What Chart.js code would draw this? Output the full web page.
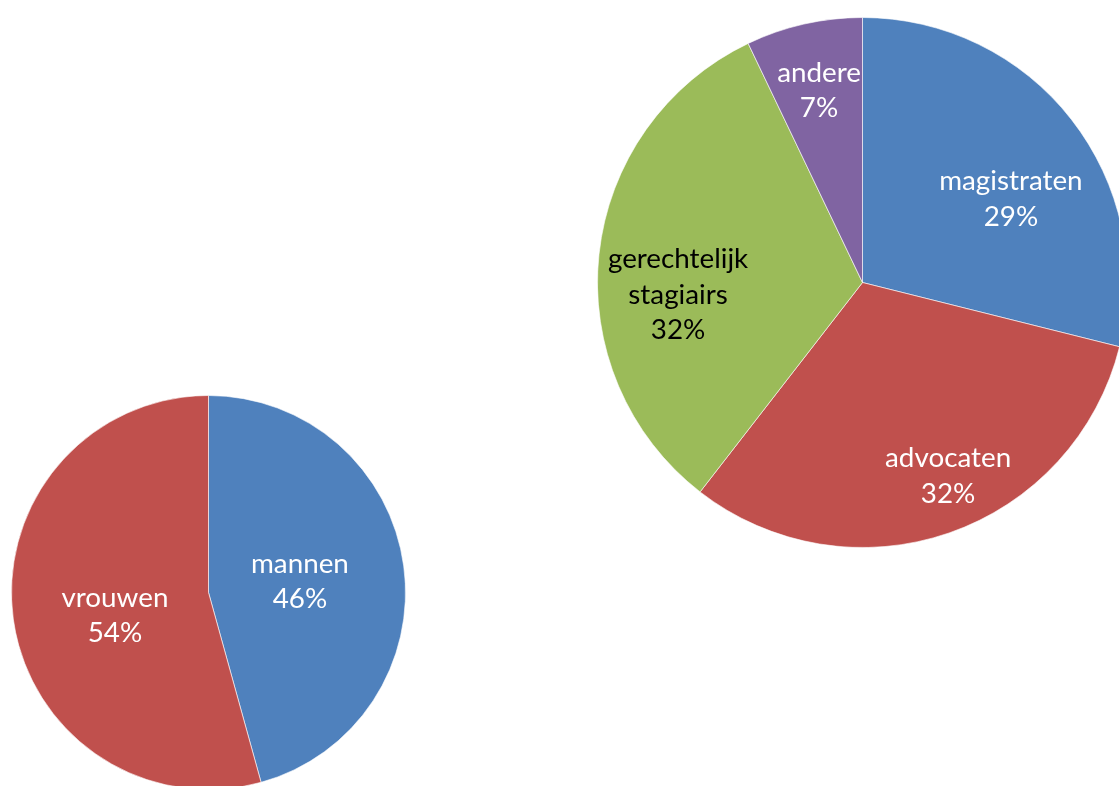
<!DOCTYPE html>
<html>
<head>
<meta charset="utf-8">
<script src="https://cdn.jsdelivr.net/npm/chart.js@4"></script>
<style>
  html, body { margin: 0; padding: 0; width: 1119px; height: 786px; overflow: hidden; background: #ffffff; }
  canvas { position: absolute; }
  #c1 { left: 11px; top: 395px; }
  #c2 { left: 597px; top: 17px; }
</style>
</head>
<body>
<canvas id="c1" width="395" height="395"></canvas>
<canvas id="c2" width="531" height="531"></canvas>
<script>
// ---- data ----
const genderCategories = ['mannen', 'vrouwen'];
const genderValues = [45.7, 54.3];

const roleCategories = ['magistraten', 'advocaten', ['gerechtelijk', 'stagiairs'], 'andere'];
const roleValues = [28.9, 31.6, 32.4, 7.1];

// ---- styles ----
const genderColors = ['#4F81BD', '#C0504D'];
const roleColors = ['#4F81BD', '#C0504D', '#9BBB59', '#8064A2'];
const genderTextColors = ['#ffffff', '#ffffff'];
const roleTextColors = ['#ffffff', '#ffffff', '#000000', '#ffffff'];
// label anchor offsets (fraction of the outer radius, from the pie centre)
const genderLabelPos = [[0.464, -0.010], [-0.475, 0.162]];
const roleLabelPos = [[0.560, -0.281], [0.323, 0.764], [-0.696, 0.081], [-0.164, -0.691]];

const FONT = '27.8px Lato, "Open Sans", sans-serif';
const LINE_H = 35.5;

function pieLabelPlugin(textColors, positions) {
  return {
    id: 'pieLabels',
    afterDatasetsDraw(chart) {
      const ctx = chart.ctx;
      const meta = chart.getDatasetMeta(0);
      const data = chart.data.datasets[0].data;
      const total = data.reduce((a, b) => a + b, 0);
      ctx.save();
      ctx.font = FONT;
      ctx.textAlign = 'center';
      ctx.textBaseline = 'alphabetic';
      meta.data.forEach((arc, i) => {
        const r = arc.outerRadius;
        const cx = arc.x + positions[i][0] * r;
        const cy = arc.y + positions[i][1] * r;
        const lab = chart.data.labels[i];
        const lines = (Array.isArray(lab) ? lab.slice() : [lab]);
        lines.push(Math.round(data[i] / total * 100) + '%');
        ctx.fillStyle = textColors[i];
        const n = lines.length;
        lines.forEach((t, k) => {
          ctx.fillText(t, cx, cy + (k - (n - 1) / 2) * LINE_H);
        });
      });
      ctx.restore();
    }
  };
}

function makePie(id, labels, values, colors, textColors, positions) {
  return new Chart(document.getElementById(id), {
    type: 'pie',
    data: {
      labels: labels,
      datasets: [{
        data: values,
        backgroundColor: colors,
        borderColor: 'rgba(255,255,255,0.6)',
        borderWidth: 1
      }]
    },
    options: {
      responsive: false,
      animation: false,
      layout: { padding: 0 },
      plugins: { legend: { display: false }, tooltip: { enabled: false } }
    },
    plugins: [pieLabelPlugin(textColors, positions)]
  });
}

function draw() {
  makePie('c1', genderCategories, genderValues, genderColors, genderTextColors, genderLabelPos);
  makePie('c2', roleCategories, roleValues, roleColors, roleTextColors, roleLabelPos);
}
if (document.fonts && document.fonts.load) {
  document.fonts.load(FONT).then(draw, draw);
} else {
  draw();
}
</script>
</body>
</html>
